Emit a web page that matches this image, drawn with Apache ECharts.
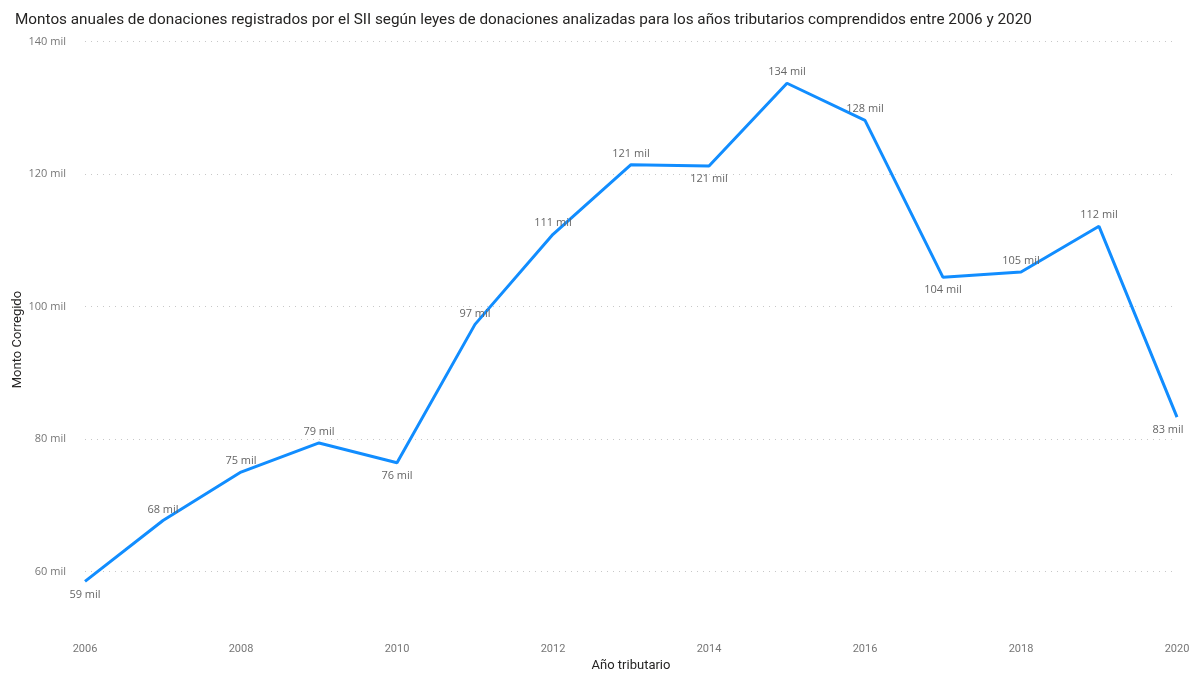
<!DOCTYPE html>
<html>
<head>
<meta charset="utf-8">
<script src="https://cdn.jsdelivr.net/npm/echarts@6/dist/echarts.min.js"></script>
<style>
  html, body { margin: 0; padding: 0; background: #fff; }
  #chart { width: 1198px; height: 675px; }
</style>
</head>
<body>
<div id="chart"></div>
<script>
// Años tributarios
const years = ['2006','2007','2008','2009','2010','2011','2012','2013','2014','2015','2016','2017','2018','2019','2020'];
// Monto corregido (miles)
const montos = [58.5, 67.7, 75.0, 79.4, 76.4, 97.3, 110.9, 121.4, 121.2, 133.7, 128.1, 104.4, 105.2, 112.1, 83.3];
// Posición de cada etiqueta de valor
const labelPos = ['bottom','top','top','top','bottom','top','top','top','bottom','top','top','bottom','top','top','bottom'];
// Líneas de referencia del eje Y
const yGrid = [60, 80, 100, 120, 140];

const chart = echarts.init(document.getElementById('chart'));

const lastIdx = montos.length - 1;

chart.setOption({
  animation: false,
  backgroundColor: '#fff',
  title: {
    text: 'Montos anuales de donaciones registrados por el SII según leyes de donaciones analizadas para los años tributarios comprendidos entre 2006 y 2020',
    left: 10,
    top: 8,
    textStyle: { fontFamily: 'Roboto', fontSize: 15.3, fontWeight: 'normal', color: '#252423' }
  },
  grid: { left: 85, right: 21, top: 41.5, bottom: 37.3, outerBoundsMode: 'none', containLabel: false },
  xAxis: {
    type: 'category',
    data: years,
    boundaryGap: false,
    axisLine: { show: false },
    axisTick: { show: false },
    axisLabel: { interval: 1, margin: 6, color: '#777', fontFamily: 'Roboto', fontSize: 11 },
    name: 'Año tributario',
    nameLocation: 'middle',
    nameGap: 22,
    nameMoveOverlap: false,
    nameTextStyle: { fontFamily: 'Roboto', fontSize: 13, color: '#252423' }
  },
  yAxis: {
    type: 'value',
    min: 50,
    max: 140,
    interval: 10,
    splitLine: { show: false },
    axisLine: { show: false },
    axisTick: { show: false },
    axisLabel: {
      margin: 19,
      color: '#777',
      fontFamily: 'Open Sans',
      fontSize: 11,
      formatter: v => (v % 20 === 0 ? v + ' mil' : '')
    },
    name: 'Monto Corregido',
    nameLocation: 'middle',
    nameGap: 61,
    nameMoveOverlap: false,
    nameTextStyle: { fontFamily: 'Roboto', fontSize: 13, color: '#252423' }
  },
  series: [{
    type: 'line',
    data: montos.map((v, i) => ({
      value: v,
      label: {
        position: labelPos[i],
        distance: labelPos[i] === 'bottom' ? 7 : 5,
        offset: i === lastIdx ? [-9, 0] : [0, 0]
      }
    })),
    symbol: 'circle',
    symbolSize: 1,
    showSymbol: true,
    lineStyle: { color: '#118DFF', width: 3 },
    itemStyle: { color: 'rgba(17,141,255,0)' },
    label: {
      show: true,
      color: '#666',
      fontFamily: 'Open Sans',
      fontSize: 11,
      formatter: p => Math.round(p.value) + ' mil'
    },
    markLine: {
      silent: true,
      symbol: 'none',
      label: { show: false },
      lineStyle: { color: '#c8c8c8', type: [1, 5], width: 1 },
      emphasis: { disabled: true },
      data: yGrid.map(v => ({ yAxis: v })),
      z: 0
    }
  }]
});
</script>
</body>
</html>
